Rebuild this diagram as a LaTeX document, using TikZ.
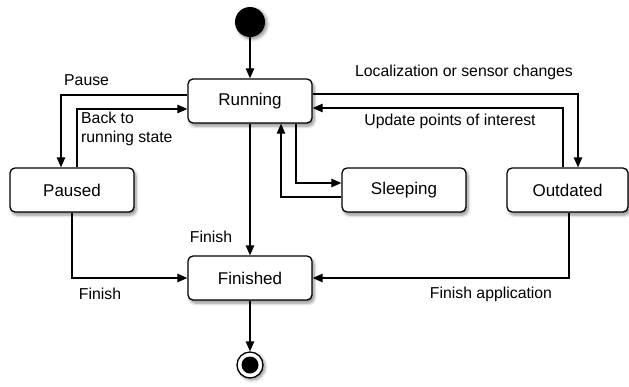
\documentclass[tikz,border=0pt]{standalone}
\usepackage{fontspec}
\setmainfont{Liberation Sans}
\usetikzlibrary{arrows.meta,shadows.blur}
\begin{document}
\begin{tikzpicture}[x=1pt,y=-1pt,
  every node/.style={inner sep=0pt},
  state/.style={draw, line width=1.3pt, rounded corners=5pt, fill=white,
    minimum width=124pt, minimum height=44pt,
    font=\fontsize{17}{20}\selectfont,
    blur shadow={shadow xshift=2pt, shadow yshift=-3pt, shadow blur steps=6, shadow blur radius=3pt, shadow opacity=45}},
  lbl/.style={font=\fontsize{15.8}{19}\selectfont},
  arr/.style={line width=1.2pt, -{Triangle[length=10pt,width=8.5pt]}}
]
\useasboundingbox (0,0) rectangle (629,386);
% nodes
\node[circle, fill=black, minimum size=30pt,
  blur shadow={shadow xshift=2pt, shadow yshift=-2pt, shadow blur steps=6, shadow blur radius=3pt, shadow opacity=45}] (init) at (250,22) {};
\node[state] (running) at (250,101) {Running};
\node[state] (paused) at (72,190) {Paused};
\node[state] (sleeping) at (404,190) {Sleeping};
\node[state, minimum width=121pt] (outdated) at (567.5,190) {Outdated};
\node[state] (finished) at (250,278) {Finished};
\node[circle, draw, line width=1.3pt, fill=white, minimum size=26pt,
  blur shadow={shadow xshift=2pt, shadow yshift=-2pt, shadow blur steps=6, shadow blur radius=3pt, shadow opacity=45}] (final) at (250,365) {};
\node[circle, fill=black, minimum size=17pt] (finaldot) at (final) {};
% connectors
\draw[arr] (init) -- (running);
\draw[arr] ([yshift=6pt]running.west) -| ([xshift=-11pt]paused.north);
\draw[arr] ([xshift=5pt]paused.north) |- ([yshift=-8pt]running.west);
\draw[arr] ([yshift=7pt]running.east) -| ([xshift=10.5pt]outdated.north);
\draw[arr] ([xshift=-4.5pt]outdated.north) |- ([yshift=-7pt]running.east);
\draw[arr] ([xshift=46pt]running.south) |- ([yshift=7pt]sleeping.west);
\draw[arr] ([yshift=-7pt]sleeping.west) -| ([xshift=31pt]running.south);
\draw[arr] (running) -- (finished);
\draw[arr] (paused.south) |- (finished.west);
\draw[arr] ([xshift=1.5pt]outdated.south) |- (finished.east);
\draw[arr] (finished) -- (final);
% labels
\node[lbl, anchor=west] (lpause) at (64,80) {Pause};
\node[lbl, anchor=north west, align=left] (lback) at (81,112) {Back to\\running state};
\node[lbl] (lloc) at (464,72) {Localization or sensor changes};
\node[lbl] (lupd) at (450,121) {Update points of interest};
\node[lbl] (lfin1) at (211,237) {Finish};
\node[lbl] (lfin2) at (100,294) {Finish};
\node[lbl] (lfin3) at (491,294) {Finish application};
\end{tikzpicture}
\end{document}
